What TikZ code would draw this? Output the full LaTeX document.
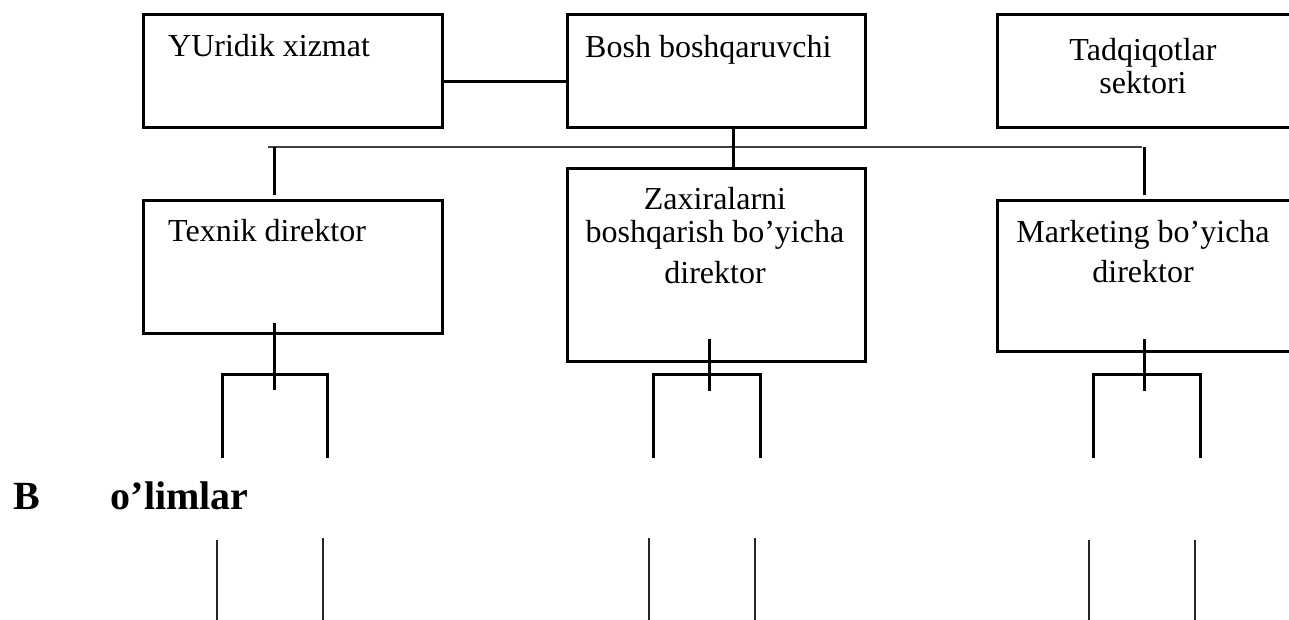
\documentclass[tikz,border=0pt]{standalone}
\usepackage{fontspec}
\setmainfont{Liberation Serif}
\begin{document}
\begin{tikzpicture}[x=1pt,y=-1pt,
  box/.style={draw, line width=3pt, rectangle, inner sep=0pt, outer sep=0pt, anchor=north west},
  txt/.style={inner sep=0pt, font=\fontsize{32}{33}\selectfont, align=center},
  boldtxt/.style={inner sep=0pt, font=\fontsize{40}{48}\selectfont\bfseries},
  conn/.style={line width=3pt},
  bus/.style={line width=2pt, black!75},
  thinline/.style={line width=1.4pt, black!85}]
\useasboundingbox (0,0) rectangle (1289,620);
% boxes
\node[box, minimum width=299pt, minimum height=113pt] (yur) at (143,15) {};
\node[box, minimum width=298pt, minimum height=113pt] (bosh) at (567,15) {};
\node[box, minimum width=300pt, minimum height=113pt] (tad) at (997,15) {};
\node[box, minimum width=299pt, minimum height=132pt] (tex) at (143,201) {};
\node[box, minimum width=298pt, minimum height=192pt] (zax) at (567,169) {};
\node[box, minimum width=300pt, minimum height=150pt] (mar) at (997,201) {};
% texts
\node[txt, anchor=base west] (yurt) at (168,57) {YUridik xizmat};
\node[txt, anchor=base west] (bosht) at (585,58) {Bosh boshqaruvchi};
\node[txt, anchor=north] (tadt) at (1143,38) {Tadqiqotlar\\sektori};
\node[txt, anchor=base west] (text) at (168,241) {Texnik direktor};
\node[txt, anchor=north] (zaxt) at (715,187) {Zaxiralarni\\boshqarish bo’yicha\\[8pt]direktor};
\node[txt, anchor=north] (mart) at (1143,220) {Marketing bo’yicha\\[7pt]direktor};
\node[boldtxt, anchor=base west] (bol) at (13,509) {B\hspace{71pt}o’limlar};
% coordinates
\coordinate (busL) at (268,147.5);
\coordinate (busR) at (1142,147.5);
\coordinate (texUp) at (274,195);
\coordinate (marUp) at (1144,195);
% connectors
\draw[conn] (yur.east |- 0,82) -- (bosh.west |- 0,82);
\draw[bus] (busL) -- (busR);
\draw[conn] (bosh.south -| 733,0) -- (zax.north -| 733,0);
\draw[conn] (busL -| texUp) -- (texUp);
\draw[conn] (busR -| marUp) -- (marUp);
% sub-brackets
\coordinate (texIn) at (274,323);
\coordinate (texOut) at (274,390);
\coordinate (zaxIn) at (709,339);
\coordinate (zaxOut) at (709,391);
\coordinate (marIn) at (1144,339);
\coordinate (marOut) at (1144,391);
\draw[conn] (texIn) -- (texOut);
\draw[conn] (zaxIn) -- (zaxOut);
\draw[conn] (marIn) -- (marOut);
\draw[conn] (222,458) -- (222,374) -- (327,374) -- (327,458);
\draw[conn] (653,458) -- (653,374) -- (760,374) -- (760,458);
\draw[conn] (1093,458) -- (1093,374) -- (1200,374) -- (1200,458);
% lower lines
\draw[thinline] (217,540) -- (217,621);
\draw[thinline] (323,538) -- (323,621);
\draw[thinline] (649,538) -- (649,621);
\draw[thinline] (755,538) -- (755,621);
\draw[thinline] (1089,540) -- (1089,621);
\draw[thinline] (1195,540) -- (1195,621);
\end{tikzpicture}
\end{document}
